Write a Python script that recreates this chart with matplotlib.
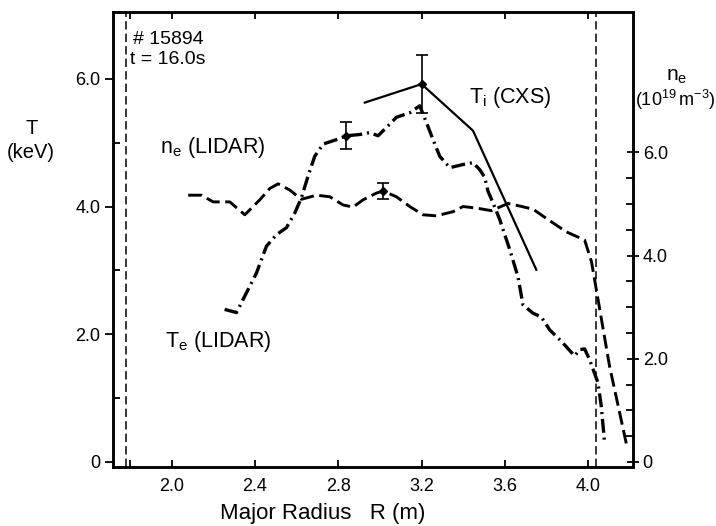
import numpy as np
import matplotlib.pyplot as plt
from matplotlib.ticker import FixedLocator, FixedFormatter

plt.rcParams['font.family'] = ['Liberation Sans', 'DejaVu Sans']
plt.rcParams['lines.scale_dashes'] = False

# Te from LIDAR (keV)
te_r = [2.254, 2.311, 2.359, 2.407, 2.455, 2.503, 2.551, 2.591, 2.623, 2.655,
        2.687, 2.727, 2.791, 2.839, 2.903, 2.951, 2.991, 3.031, 3.079, 3.143,
        3.191, 3.223, 3.255, 3.287, 3.335, 3.399, 3.447, 3.479, 3.503, 3.519,
        3.543, 3.575, 3.623, 3.663, 3.687, 3.735, 3.775, 3.815, 3.871, 3.935,
        3.959, 3.983, 4.007, 4.047, 4.063, 4.079]
te_val = [2.39, 2.34, 2.65, 2.96, 3.38, 3.56, 3.67, 3.90, 4.14, 4.48,
          4.79, 4.98, 5.05, 5.11, 5.13, 5.16, 5.11, 5.24, 5.40, 5.47,
          5.58, 5.32, 5.05, 4.79, 4.61, 4.66, 4.69, 4.58, 4.46, 4.24,
          4.06, 3.80, 3.33, 2.90, 2.46, 2.33, 2.27, 2.07, 1.89, 1.66,
          1.76, 1.77, 1.60, 1.24, 0.87, 0.29]

# ne from LIDAR (1e19 m^-3)
ne_r = [2.079, 2.143, 2.199, 2.279, 2.351, 2.423, 2.471, 2.511, 2.567, 2.623,
        2.695, 2.759, 2.823, 2.871, 2.919, 2.983, 3.015, 3.079, 3.143, 3.207,
        3.271, 3.351, 3.399, 3.463, 3.535, 3.575, 3.615, 3.671, 3.735, 3.799,
        3.895, 3.983, 4.016, 4.103, 4.183]
ne_val = [5.17, 5.17, 5.04, 5.04, 4.79, 5.08, 5.30, 5.39, 5.27, 5.09,
          5.17, 5.14, 4.98, 4.94, 5.08, 5.21, 5.25, 5.14, 4.95, 4.79,
          4.77, 4.85, 4.95, 4.92, 4.87, 4.94, 5.01, 4.96, 4.90, 4.72,
          4.46, 4.30, 3.88, 1.85, 0.36]

# Ti from CXS (keV)
ti_r = [2.927, 3.2, 3.447, 3.751]
ti_val = [5.63, 5.92, 5.19, 3.01]

# points with error bars: (R, value, error)
te_err = (2.839, 5.11, 0.21)
ne_err = (3.015, 5.25, 0.15)
ti_err = (3.2, 5.92, 0.45)

# limiter / wall positions
walls = [1.781, 4.037]

fig = plt.figure(figsize=(7.16, 5.26), dpi=100)
ax = fig.add_axes([0.1578, 0.1122, 0.7262, 0.8650])
ax2 = ax.twinx()

ax.set_xlim(1.718, 4.215)
ax.set_ylim(-0.08, 7.05)
ax2.set_ylim(-0.097, 8.72)

for w in walls:
    ax.axvline(w, color='black', lw=1.1, dashes=(6, 3))

ax.plot(te_r, te_val, color='black', lw=2.4, dashes=(10, 3.5, 1.5, 3.5))
ax2.plot(ne_r, ne_val, color='black', lw=2.1, dashes=(10, 4))
ax.plot(ti_r, ti_val, color='black', lw=1.6)

ax.errorbar(te_err[0], te_err[1], yerr=te_err[2], fmt='D', ms=4, color='black',
            capsize=4, elinewidth=1.2, capthick=1.2)
ax.errorbar(ti_err[0], ti_err[1], yerr=ti_err[2], fmt='D', ms=4, color='black',
            capsize=4, elinewidth=1.2, capthick=1.2)
ax2.errorbar(ne_err[0], ne_err[1], yerr=ne_err[2], fmt='D', ms=4, color='black',
             capsize=4, elinewidth=1.2, capthick=1.2)

# axes frame and ticks
for a in (ax, ax2):
    for s in a.spines.values():
        s.set_linewidth(1.8)

ax.xaxis.set_major_locator(FixedLocator([2.0, 2.4, 2.8, 3.2, 3.6, 4.0]))
ax.xaxis.set_major_formatter(FixedFormatter(['2.0', '2.4', '2.8', '3.2', '3.6', '4.0']))
ax.xaxis.set_minor_locator(FixedLocator([1.8]))
ax.yaxis.set_major_locator(FixedLocator([0, 2, 4, 6]))
ax.yaxis.set_major_formatter(FixedFormatter(['0', '2.0', '4.0', '6.0']))
ax.yaxis.set_minor_locator(FixedLocator([1, 3, 5]))
ax.tick_params(axis='x', which='both', direction='in', top=True, length=5,
               width=1.3, labelsize=13, pad=8)
ax.tick_params(axis='y', which='major', direction='out', length=6, width=1.3,
               labelsize=13, pad=3)
ax.tick_params(axis='y', which='minor', direction='in', length=5, width=1.3)

ax2.yaxis.set_major_locator(FixedLocator([0, 2, 4, 6]))
ax2.yaxis.set_major_formatter(FixedFormatter(['0', '2.0', '4.0', '6.0']))
ax2.yaxis.set_minor_locator(FixedLocator(np.arange(0.5, 6.0, 0.5)))
ax2.tick_params(axis='y', which='major', direction='inout', length=8, width=1.3,
                labelsize=13, pad=3)
ax2.tick_params(axis='y', which='minor', direction='in', length=5, width=1.3)

# labels
fig.text(32 / 716, 1 - 128 / 526, 'T', fontsize=14.5, ha='center', va='center')
fig.text(31 / 716, 1 - 152 / 526, '(keV)', fontsize=14.5, ha='center', va='center')
fig.text(677 / 716, 1 - 77 / 526, r'$\mathregular{n_e}$', fontsize=15,
         ha='center', va='center')
fig.text(675 / 716, 1 - 100 / 526, r'$\mathregular{(10^{19}\,m^{-3})}$',
         fontsize=13, ha='center', va='center')
fig.text(323 / 716, 1 - 514 / 526, 'Major Radius   R (m)', fontsize=16,
         ha='center', va='center')

fig.text(133 / 716, 1 - 40 / 526, '# 15894', fontsize=14, ha='left', va='center')
fig.text(130 / 716, 1 - 60 / 526, 't = 16.0s', fontsize=14, ha='left', va='center')
fig.text(160 / 716, 1 - 148 / 526, r'$\mathregular{n_e}$ (LIDAR)', fontsize=15.5,
         ha='left', va='center')
fig.text(165 / 716, 1 - 342 / 526, r'$\mathregular{T_e}$ (LIDAR)', fontsize=15.5,
         ha='left', va='center')
fig.text(469 / 716, 1 - 97 / 526, r'$\mathregular{T_i}$ (CXS)', fontsize=15.5,
         ha='left', va='center')

fig.savefig('out.png', dpi=100)
